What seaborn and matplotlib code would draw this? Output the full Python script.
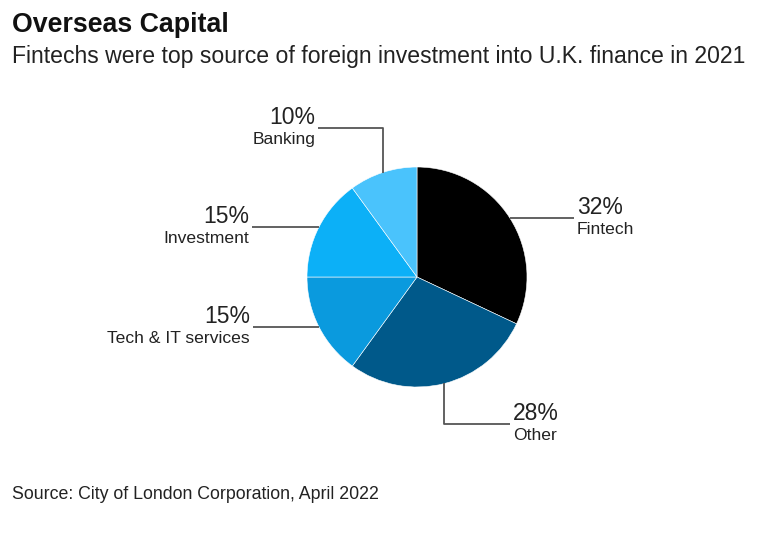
import numpy as np
import matplotlib
matplotlib.use("Agg")
import matplotlib.pyplot as plt
import seaborn as sns

# ---- data ----
categories = ["Fintech", "Other", "Tech & IT services", "Investment", "Banking"]
shares = [32, 28, 15, 15, 10]
pct_labels = ["32%", "28%", "15%", "15%", "10%"]
colors = ["#000000", "#00598a", "#0a9ade", "#0cb0f7", "#4ac3fc"]

title = "Overseas Capital"
subtitle = "Fintechs were top source of foreign investment into U.K. finance in 2021"
source = "Source: City of London Corporation, April 2022"

sns.set_theme(style="white")
plt.rcParams["font.family"] = ["Liberation Sans", "DejaVu Sans"]

W, H = 764, 539
fig = plt.figure(figsize=(W / 100, H / 100), dpi=100)
fig.patch.set_facecolor("white")
ax = fig.add_axes([0, 0, 1, 1])

cx, cy, r = 417, H - 277, 110
wedges, _ = ax.pie(shares, colors=colors, startangle=90, counterclock=False,
                   center=(cx, cy), radius=r, frame=True,
                   wedgeprops=dict(edgecolor="white", linewidth=0.4))
ax.set_xlim(0, W)
ax.set_ylim(0, H)
ax.set_aspect("equal")
ax.axis("off")

line_kw = dict(color="#555555", lw=1.3, solid_capstyle="butt")
txt_col = "#222222"

# leader style per slice: (kind, vertical length, horizontal length, side)
leaders = {
    "Fintech": ("h", 0, 64, 1),
    "Other": ("vh", -40, 66, 1),
    "Tech & IT services": ("h", 0, 66, -1),
    "Investment": ("h", 0, 67, -1),
    "Banking": ("vh", 44, 65, -1),
}

for w, cat, pct in zip(wedges, categories, pct_labels):
    ang = np.deg2rad((w.theta1 + w.theta2) / 2)
    x0 = cx + r * np.cos(ang)
    y0 = cy + r * np.sin(ang)
    kind, vlen, hlen, side = leaders[cat]
    if kind == "h":
        xe, ye = x0 + side * hlen, y0
        ax.plot([x0, xe], [y0, ye], **line_kw)
    else:
        y1 = y0 + vlen
        xe, ye = x0 + side * hlen, y1
        ax.plot([x0, x0, xe], [y0 - np.sign(vlen) * 1, y1, ye], **line_kw)
    ha = "left" if side > 0 else "right"
    tx = xe + side * 3
    ax.text(tx, ye + 4, pct, ha=ha, va="baseline", fontsize=16.5, color=txt_col)
    ax.text(tx, ye - 4, cat, ha=ha, va="top", fontsize=12.6, color=txt_col)

fig.text(12 / W, 1 - 32 / H, title, ha="left", va="baseline", fontsize=19.3,
         fontweight="bold", color="#111111")
fig.text(12 / W, 1 - 63 / H, subtitle, ha="left", va="baseline", fontsize=16.6,
         color=txt_col)
fig.text(12 / W, 1 - 499 / H, source, ha="left", va="baseline", fontsize=12.8,
         color=txt_col)

fig.savefig("out.png", dpi=100, facecolor="white")
